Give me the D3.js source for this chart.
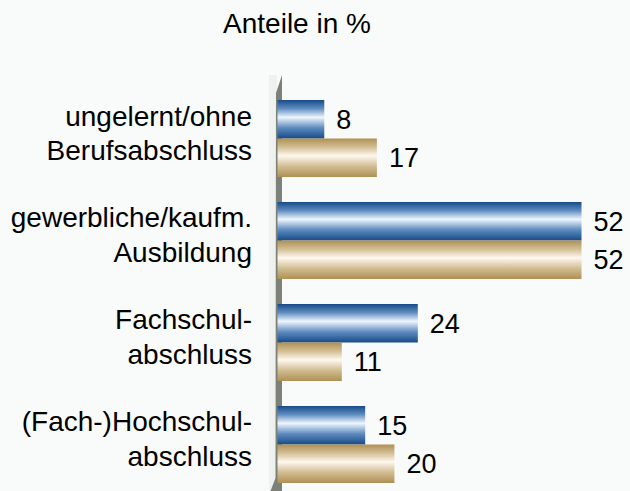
<!DOCTYPE html>
<html>
<head>
<meta charset="utf-8">
<script src="https://cdn.jsdelivr.net/npm/d3@7"></script>
<style>
  html, body { margin: 0; padding: 0; background: #f8fbf9; }
  svg { display: block; font-family: "Liberation Sans", Arial, sans-serif; }
</style>
</head>
<body>
<svg id="chart"></svg>
<script>
// Chart data
const categories = [
    ["ungelernt/ohne", "Berufsabschluss"],
    ["gewerbliche/kaufm.", "Ausbildung"],
    ["Fachschul-", "abschluss"],
    ["(Fach-)Hochschul-", "abschluss"]
];
const seriesNames = ["Reihe 1", "Reihe 2"];
const seriesBlue = [8, 52, 24, 15];
const seriesGold = [17, 52, 11, 20];
const title = "Anteile in %";

const width = 630, height = 491;

const svg = d3.select("#chart")
    .attr("width", width)
    .attr("height", height);

svg.append("rect").attr("width", width).attr("height", height).attr("fill", "#f8fbf9");

// Gradients for the bars (light band across the middle)
const defs = svg.append("defs");
function addGradient(id, edge, mid, light) {
    const g = defs.append("linearGradient")
        .attr("id", id)
        .attr("x1", 0).attr("y1", 0).attr("x2", 0).attr("y2", 1);
    g.append("stop").attr("offset", "0%").attr("stop-color", edge);
    g.append("stop").attr("offset", "22%").attr("stop-color", mid);
    g.append("stop").attr("offset", "45%").attr("stop-color", light);
    g.append("stop").attr("offset", "72%").attr("stop-color", mid);
    g.append("stop").attr("offset", "100%").attr("stop-color", edge);
}
addGradient("grad-blue", "#164a88", "#5f8cbf", "#eef6fe");
addGradient("grad-gold", "#ae9053", "#d2bd93", "#fff8ef");

const colors = ["url(#grad-blue)", "url(#grad-gold)"];

// Scales
const x = d3.scaleLinear()
    .domain([0, 52])
    .range([277.5, 581.5]);

const y = d3.scaleBand()
    .domain(d3.range(categories.length))
    .range([100, 483])
    .paddingInner(0.245);

const ySub = d3.scaleBand()
    .domain(seriesNames)
    .range([0, y.bandwidth()]);

const x0 = x(0);

// Side wall of the 3D plot area
svg.append("rect")
    .attr("x", x0 - 8.5)
    .attr("y", 75)
    .attr("width", 8)
    .attr("height", height - 75)
    .attr("fill", "#eef1ee");

svg.append("path")
    .attr("d", `M${x0 - 1.5},93 L${x0 + 4.5},75 L${x0 + 4.5},${height} L${x0 - 7},${height} L${x0 - 2},478 Z`)
    .attr("fill", "#7b8079");

// Bars
const rows = categories.map((c, i) => ({
    i: i,
    values: [
        { key: seriesNames[0], value: seriesBlue[i], color: colors[0] },
        { key: seriesNames[1], value: seriesGold[i], color: colors[1] }
    ]
}));

const groups = svg.selectAll("g.group")
    .data(rows)
    .enter()
    .append("g")
    .attr("class", "group")
    .attr("transform", d => `translate(0,${y(d.i)})`);

groups.selectAll("rect")
    .data(d => d.values)
    .enter()
    .append("rect")
    .attr("x", x0)
    .attr("y", d => ySub(d.key))
    .attr("width", d => x(d.value) - x0)
    .attr("height", ySub.bandwidth())
    .attr("fill", d => d.color);

groups.selectAll("text.value")
    .data(d => d.values)
    .enter()
    .append("text")
    .attr("class", "value")
    .attr("x", d => x(d.value) + 12)
    .attr("y", d => ySub(d.key) + ySub.bandwidth() / 2 + 9.5)
    .attr("font-size", 27)
    .attr("fill", "#000")
    .text(d => d.value);

// Category labels, two lines each
groups.each(function(d) {
    const mid = y.bandwidth() / 2;
    const t = d3.select(this).append("text")
        .attr("text-anchor", "end")
        .attr("font-size", 28)
        .attr("fill", "#000");
    t.append("tspan").attr("x", 252).attr("y", mid - 13).text(categories[d.i][0]);
    t.append("tspan").attr("x", 252).attr("y", mid + 21.5).text(categories[d.i][1]);
});

// Title
svg.append("text")
    .attr("x", 297)
    .attr("y", 33)
    .attr("text-anchor", "middle")
    .attr("font-size", 28)
    .attr("fill", "#000")
    .text(title);
</script>
</body>
</html>
